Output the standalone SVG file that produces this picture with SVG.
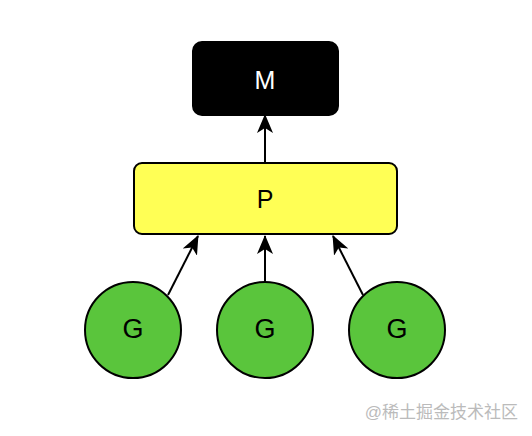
<svg xmlns="http://www.w3.org/2000/svg" width="532" height="436" viewBox="0 0 532 436">
<defs>
<marker id="ah" viewBox="0 0 19 16" refX="18" refY="8" markerWidth="19" markerHeight="16" markerUnits="userSpaceOnUse" orient="auto">
<path d="M0,0 L19,8 L0,16 L5,8 Z" fill="#000"/>
</marker>
</defs>
<style>
.lbl{font-family:"Liberation Sans",Arial,sans-serif;text-anchor:middle;dominant-baseline:central}
.g{fill:#5ac53c;stroke:#000;stroke-width:2}
.edge{stroke:#000;stroke-width:2;fill:none;marker-end:url(#ah)}
</style>
<rect width="532" height="436" fill="#fff"/>
<g id="connectors">
<line class="edge" x1="265" y1="163" x2="265" y2="115"/>
<line class="edge" x1="168" y1="295" x2="198" y2="236"/>
<line class="edge" x1="265" y1="282" x2="265" y2="236"/>
<line class="edge" x1="363" y1="295" x2="333" y2="236"/>
</g>
<g id="M">
<rect x="193" y="42" width="145" height="73" rx="9" fill="#000" stroke="#000" stroke-width="2"/>
<text class="lbl" x="265" y="80" fill="#fff" font-size="25">M</text>
</g>
<g id="P">
<rect x="134" y="163" width="263" height="71" rx="8" fill="#ffff55" stroke="#000" stroke-width="2"/>
<text class="lbl" x="265" y="199" fill="#000" font-size="25">P</text>
</g>
<g id="G1">
<circle class="g" cx="133" cy="330" r="48"/>
<text class="lbl" x="133" y="329" fill="#000" font-size="27">G</text>
</g>
<g id="G2">
<circle class="g" cx="265" cy="330" r="48"/>
<text class="lbl" x="265" y="329" fill="#000" font-size="27">G</text>
</g>
<g id="G3">
<circle class="g" cx="397" cy="330" r="48"/>
<text class="lbl" x="397" y="329" fill="#000" font-size="27">G</text>
</g>
<text x="518" y="418" font-family="'Liberation Sans','Noto Sans CJK SC',sans-serif" font-size="17" fill="#bbb" text-anchor="end">@稀土掘金技术社区</text>
</svg>
